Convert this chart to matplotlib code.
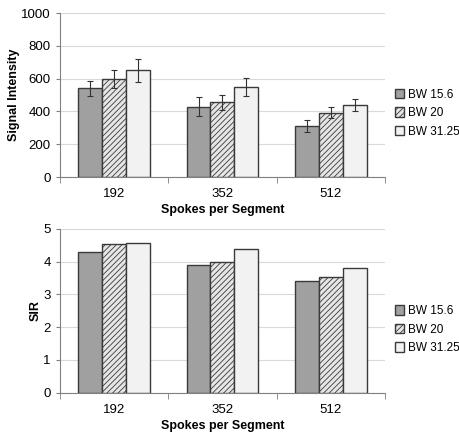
import matplotlib
matplotlib.use("Agg")
import matplotlib.pyplot as plt
import numpy as np

# datos
spokes = ["192", "352", "512"]
series = ["BW 15.6", "BW 20", "BW 31.25"]
signal = [[540, 430, 310],
          [600, 455, 393],
          [650, 550, 438]]
signal_err = [[45, 60, 35],
              [55, 45, 35],
              [70, 55, 35]]
sir = [[4.30, 3.88, 3.40],
       [4.52, 3.98, 3.53],
       [4.57, 4.37, 3.80]]

colores = ["#a0a0a0", "#e6e6e6", "#f2f2f2"]
tramas = [None, "//////", None]

plt.rcParams["font.family"] = ["Liberation Sans", "DejaVu Sans"]
plt.rcParams["hatch.color"] = "#9a9a9a"
plt.rcParams["hatch.linewidth"] = 0.6

fig = plt.figure(figsize=(4.6, 4.34), dpi=100)
ax1 = fig.add_axes([0.130, 0.592, 0.707, 0.378])
ax2 = fig.add_axes([0.130, 0.095, 0.707, 0.378])


def panel(ax, valores, errores, ylim, paso, ylabel, pos_leyenda):
    x = np.arange(len(spokes))
    ancho = 0.22
    for i, nombre in enumerate(series):
        kw = {}
        if errores is not None:
            kw = dict(yerr=errores[i], capsize=2.5,
                      error_kw=dict(elinewidth=0.8, ecolor="#333333", capthick=0.8))
        ax.bar(x + (i - 1) * ancho, valores[i], ancho, color=colores[i],
               edgecolor="#3a3a3a", linewidth=1.0, hatch=tramas[i],
               label=nombre, zorder=3, **kw)
    ax.set_xlim(-0.5, len(spokes) - 0.5)
    ax.set_ylim(*ylim)
    ax.set_yticks(np.arange(ylim[0], ylim[1] + paso / 2, paso))
    ax.set_xticks(x)
    ax.set_xticklabels(spokes)
    ax.set_xticks(np.arange(-0.5, len(spokes), 1), minor=True)
    ax.tick_params(axis="x", which="major", length=0, labelsize=9.5, pad=8)
    ax.tick_params(axis="x", which="minor", length=4, color="#808080", direction="out")
    ax.tick_params(axis="y", length=3, color="#808080", labelsize=9.5)
    ax.grid(axis="y", color="#d9d9d9", linewidth=0.8, zorder=0)
    for s in ["top", "right"]:
        ax.spines[s].set_visible(False)
    for s in ["left", "bottom"]:
        ax.spines[s].set_color("#808080")
    ax.set_xlabel("Spokes per Segment", fontsize=9, fontweight="bold", labelpad=3)
    ax.set_ylabel(ylabel, fontsize=9, fontweight="bold", labelpad=1)
    ax.legend(loc="center left", bbox_to_anchor=pos_leyenda, frameon=False,
              fontsize=8.5, handlelength=0.8, handleheight=0.8, handletextpad=0.3,
              labelspacing=0.55, borderaxespad=0)


panel(ax1, signal, signal_err, (0, 1000), 200, "Signal Intensity", (1.015, 0.39))
panel(ax2, sir, None, (0, 5), 1, "SIR", (1.015, 0.385))

fig.savefig("out.png", dpi=100)
